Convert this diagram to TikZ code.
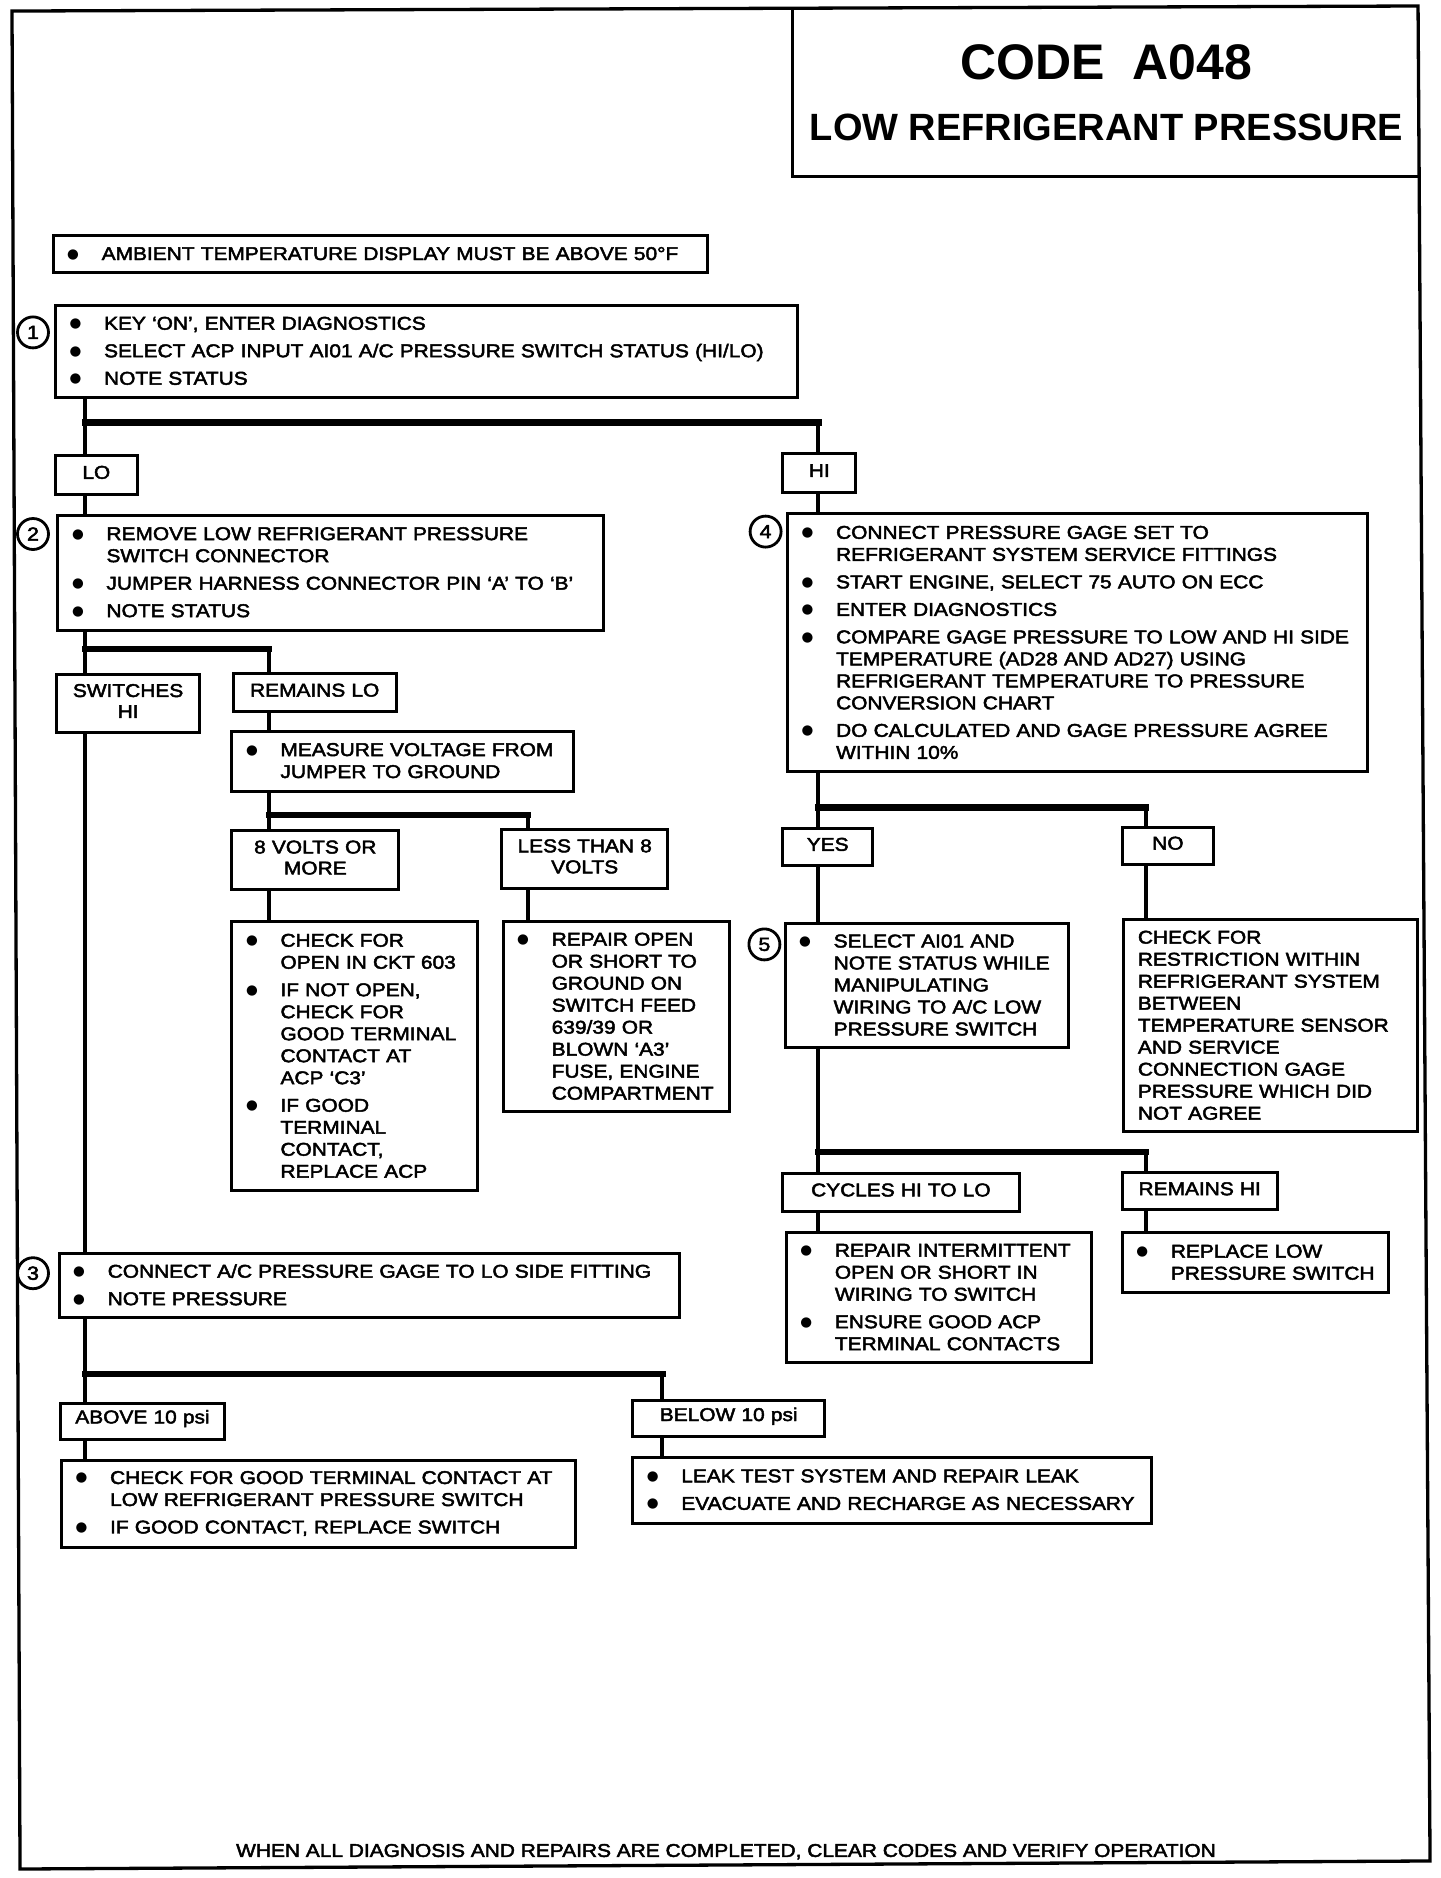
\documentclass[tikz,border=0pt]{standalone}
\usepackage{fontspec}
\setmainfont{Liberation Sans}
\newfontfamily\bodyfam{Liberation Sans}[FakeStretch=1.13, FakeBold=2.5]
\newfontfamily\dejavu{DejaVu Sans}
\newcommand\bodyfont{\bodyfam\fontsize{18.5}{22}\selectfont}
\newcommand\labfont{\bodyfam\fontsize{18.5}{21}\selectfont}
\newlength\bind \setlength\bind{36.6pt}
\newcommand\bull{\dejavu\fontsize{13.5}{13.5}\selectfont ●}
\newcommand\itm[1]{\par\noindent\makebox[\bind][l]{\hspace*{8pt}\makebox[0pt]{\raisebox{2pt}{\bull}}}\mbox{#1}}
\newcommand\cnt[1]{\par\noindent\hspace*{\bind}\mbox{#1}}
\newcommand\gap{\par\vspace{5.5pt}}
\newcommand\pln[1]{\par\noindent\mbox{#1}}
\tikzset{
  box/.style={draw, line width=3pt, anchor=north west, inner xsep=0pt, inner ysep=0pt, font=\bodyfont, align=left},
  lab/.style={draw, line width=3pt, anchor=north west, inner xsep=0pt, inner ysep=0pt, font=\labfont, align=center},
  numc/.style={circle, draw, line width=2.8pt, minimum size=31pt, inner sep=0pt, font=\bodyfam\fontsize{19}{19}\selectfont, fill=white},
  vl/.style={line width=4pt},
  hl/.style={line width=6.3pt, line cap=rect},
  frame/.style={line width=3.3pt, line join=miter},
}
\newcommand\bx[7][12]{%
  \pgfmathsetmacro\bxw{(#5-#3)*1.2}%
  \pgfmathsetmacro\bxh{(#6-#4)*1.2}%
  \pgfmathsetmacro\bxt{(#5-#3)*1.2-2*#1}%
  \node[box, minimum width=\bxw pt, minimum height=\bxh pt, text width=\bxt pt] (#2) at (#3,#4) {#7\par\kern10pt};}
\newcommand\lb[6]{%
  \pgfmathsetmacro\bxw{(#4-#2)*1.2}%
  \pgfmathsetmacro\bxh{(#5-#3)*1.2}%
  \node[lab, minimum width=\bxw pt, minimum height=\bxh pt, text width=\bxw pt] (#1) at (#2,#3) {#6\par\kern5pt};}
\begin{document}
\begin{tikzpicture}[x=1.2pt,y=-1.2pt]
\fill[white] (0,0) rectangle (1200,1565);
\useasboundingbox (0,0) rectangle (1200,1565);
% frame and title box
\draw[frame] (10,9.2) -- (1181.7,5) -- (1191.7,1550.8) -- (16.7,1557.5) -- cycle;
\draw[line width=3pt] (660,6.9) -- (660,146.7) -- (1182.6,146.7);
\node[font=\fontsize{50}{50}\selectfont\bfseries] (t1) at (922,52) {CODE\hspace{0.55em}A048};
\node[font=\fontsize{38}{38}\selectfont\bfseries] (t2) at (922,106) {LOW REFRIGERANT PRESSURE};
% boxes
\bx{amb}{43}{195}{588}{226}{\itm{AMBIENT TEMPERATURE DISPLAY MUST BE ABOVE 50°F}}
\bx{b1}{45}{253}{663}{330}{\itm{KEY ‘ON’, ENTER DIAGNOSTICS}\gap\itm{SELECT ACP INPUT AI01 A/C PRESSURE SWITCH STATUS (HI/LO)}\gap\itm{NOTE STATUS}}
\lb{lo}{45}{378}{113}{411}{LO}
\lb{hi}{651}{377}{712}{409}{HI}
\bx{b2}{47}{428}{502}{524}{\itm{REMOVE LOW REFRIGERANT PRESSURE}\cnt{SWITCH CONNECTOR}\gap\itm{JUMPER HARNESS CONNECTOR PIN ‘A’ TO ‘B’}\gap\itm{NOTE STATUS}}
\bx{b4}{655}{427}{1138}{642}{\itm{CONNECT PRESSURE GAGE SET TO}\cnt{REFRIGERANT SYSTEM SERVICE FITTINGS}\gap\itm{START ENGINE, SELECT 75 AUTO ON ECC}\gap\itm{ENTER DIAGNOSTICS}\gap\itm{COMPARE GAGE PRESSURE TO LOW AND HI SIDE}\cnt{TEMPERATURE (AD28 AND AD27) USING}\cnt{REFRIGERANT TEMPERATURE TO PRESSURE}\cnt{CONVERSION CHART}\gap\itm{DO CALCULATED AND GAGE PRESSURE AGREE}\cnt{WITHIN 10\%}}
\lb{sw}{46}{561}{165}{609}{SWITCHES\\HI}
\lb{rl}{193}{560}{329}{592}{REMAINS LO}
\bx{ms}{192}{608}{477}{658}{\itm{MEASURE VOLTAGE FROM}\cnt{JUMPER TO GROUND}}
\lb{v8}{192}{691}{331}{740}{8 VOLTS OR\\MORE}
\lb{lt}{417}{690}{555}{739}{LESS THAN 8\\VOLTS}
\bx{ck}{192}{767}{397}{991}{\itm{CHECK FOR}\cnt{OPEN IN CKT 603}\gap\itm{IF NOT OPEN,}\cnt{CHECK FOR}\cnt{GOOD TERMINAL}\cnt{CONTACT AT}\cnt{ACP ‘C3’}\gap\itm{IF GOOD}\cnt{TERMINAL}\cnt{CONTACT,}\cnt{REPLACE ACP}}
\bx{rp}{418}{767}{607}{925}{\itm{REPAIR OPEN}\cnt{OR SHORT TO}\cnt{GROUND ON}\cnt{SWITCH FEED}\cnt{639/39 OR}\cnt{BLOWN ‘A3’}\cnt{FUSE, ENGINE}\cnt{COMPARTMENT}}
\bx{b3}{48}{1043}{565}{1097}{\itm{CONNECT A/C PRESSURE GAGE TO LO SIDE FITTING}\gap\itm{NOTE PRESSURE}}
\lb{ab}{49}{1168}{186}{1198}{ABOVE 10 psi}
\lb{be}{526}{1166}{686}{1196}{BELOW 10 psi}
\bx{cg}{50}{1216}{478}{1288}{\itm{CHECK FOR GOOD TERMINAL CONTACT AT}\cnt{LOW REFRIGERANT PRESSURE SWITCH}\gap\itm{IF GOOD CONTACT, REPLACE SWITCH}}
\bx{lk}{526}{1213}{958}{1268}{\itm{LEAK TEST SYSTEM AND REPAIR LEAK}\gap\itm{EVACUATE AND RECHARGE AS NECESSARY}}
\lb{yes}{651}{689}{726}{720}{YES}
\lb{no}{934}{688}{1010}{719}{NO}
\bx{b5}{653}{768}{889}{872}{\itm{SELECT AI01 AND}\cnt{NOTE STATUS WHILE}\cnt{MANIPULATING}\cnt{WIRING TO A/C LOW}\cnt{PRESSURE SWITCH}}
\bx[14.4]{nt}{935}{765}{1180}{942}{\pln{CHECK FOR}\pln{RESTRICTION WITHIN}\pln{REFRIGERANT SYSTEM}\pln{BETWEEN}\pln{TEMPERATURE SENSOR}\pln{AND SERVICE}\pln{CONNECTION GAGE}\pln{PRESSURE WHICH DID}\pln{NOT AGREE}}
\lb{cy}{651}{977}{848}{1008}{CYCLES HI TO LO}
\lb{rh}{934}{976}{1063}{1007}{REMAINS HI}
\bx{ri}{654}{1026}{908}{1134}{\itm{REPAIR INTERMITTENT}\cnt{OPEN OR SHORT IN}\cnt{WIRING TO SWITCH}\gap\itm{ENSURE GOOD ACP}\cnt{TERMINAL CONTACTS}}
\bx{rpl}{934}{1026}{1156}{1076}{\itm{REPLACE LOW}\cnt{PRESSURE SWITCH}}
% step numbers
\node[numc] (c1) at (27.5,277) {1};
\node[numc] (c2) at (27.5,445) {2};
\node[numc] (c3) at (27.5,1061) {3};
\node[numc] (c4) at (638,443) {4};
\node[numc] (c5) at (637,787) {5};
% footer
\node[font=\bodyfont] (ft) at (605,1543) {WHEN ALL DIAGNOSIS AND REPAIRS ARE COMPLETED, CLEAR CODES AND VERIFY OPERATION};
% connectors
\coordinate (j1) at (71,352); \coordinate (j1r) at (682,352);
\draw[vl] (b1.south -| j1) -- (lo.north -| j1);
\draw[hl] (j1) -- (j1r);
\draw[vl] (j1r) -- (hi.north -| j1r);
\draw[vl] (lo.south -| j1) -- (b2.north -| j1);
\draw[vl] (hi.south -| j1r) -- (b4.north -| j1r);
\coordinate (j2) at (71,541); \coordinate (j2r) at (224,541);
\draw[vl] (b2.south -| j2) -- (sw.north -| j2);
\draw[hl] (j2) -- (j2r);
\draw[vl] (j2r) -- (rl.north -| j2r);
\draw[vl] (sw.south -| j2) -- (b3.north -| j2);
\draw[vl] (rl.south -| j2r) -- (ms.north -| j2r);
\coordinate (j3) at (224,679); \coordinate (j3r) at (440,679);
\draw[vl] (ms.south -| j3) -- (v8.north -| j3);
\draw[hl] (j3) -- (j3r);
\draw[vl] (j3r) -- (lt.north -| j3r);
\draw[vl] (v8.south -| j3) -- (ck.north -| j3);
\draw[vl] (lt.south -| j3r) -- (rp.north -| j3r);
\coordinate (j4) at (71,1145); \coordinate (j4r) at (552,1145);
\draw[vl] (b3.south -| j4) -- (ab.north -| j4);
\draw[hl] (j4) -- (j4r);
\draw[vl] (j4r) -- (be.north -| j4r);
\draw[vl] (ab.south -| j4) -- (cg.north -| j4);
\draw[vl] (be.south -| j4r) -- (lk.north -| j4r);
\coordinate (j5) at (682,673); \coordinate (j5r) at (955,673);
\draw[vl] (b4.south -| j5) -- (yes.north -| j5);
\draw[hl] (j5) -- (j5r);
\draw[vl] (j5r) -- (no.north -| j5r);
\draw[vl] (yes.south -| j5) -- (b5.north -| j5);
\draw[vl] (no.south -| j5r) -- (nt.north -| j5r);
\coordinate (j6) at (682,960); \coordinate (j6r) at (955,960);
\draw[vl] (b5.south -| j6) -- (cy.north -| j6);
\draw[hl] (j6) -- (j6r);
\draw[vl] (j6r) -- (rh.north -| j6r);
\draw[vl] (cy.south -| j6) -- (ri.north -| j6);
\draw[vl] (rh.south -| j6r) -- (rpl.north -| j6r);
\end{tikzpicture}
\end{document}
